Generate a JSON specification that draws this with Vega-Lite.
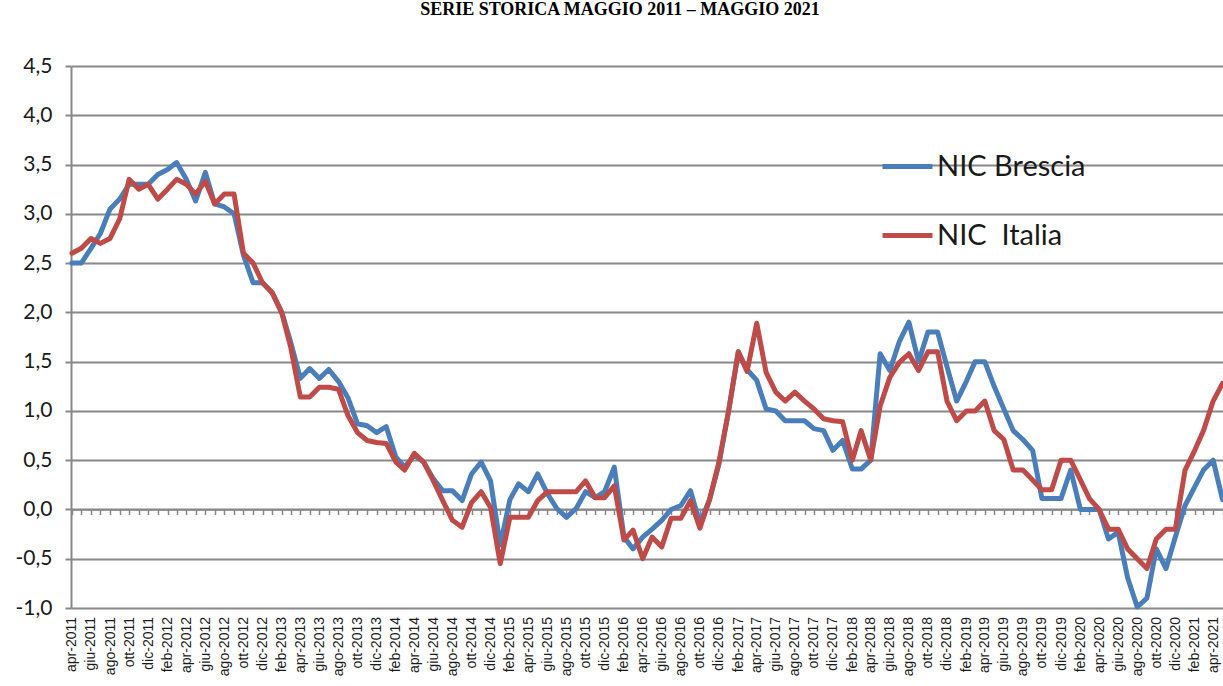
{
  "$schema": "https://vega.github.io/schema/vega-lite/v6.json",
  "autosize": {"type": "none"},
  "width": 1152,
  "height": 542,
  "padding": {"left": 71, "top": 66, "right": 0, "bottom": 78},
  "background": "white",
  "title": {
    "text": "SERIE STORICA MAGGIO 2011 – MAGGIO 2021",
    "font": "Liberation Serif",
    "fontWeight": "bold",
    "fontSize": 18,
    "color": "black",
    "anchor": "middle",
    "frame": "group",
    "baseline": "alphabetic",
    "offset": 22,
    "dx": -27
  },
  "config": {
    "view": {"stroke": null}
  },
  "data": {
    "values": [
      {"mese": "2011-04", "brescia": 2.5, "italia": 2.6},
      {"mese": "2011-05", "brescia": 2.5, "italia": 2.65},
      {"mese": "2011-06", "brescia": 2.65, "italia": 2.75},
      {"mese": "2011-07", "brescia": 2.8, "italia": 2.7},
      {"mese": "2011-08", "brescia": 3.05, "italia": 2.75},
      {"mese": "2011-09", "brescia": 3.15, "italia": 2.95},
      {"mese": "2011-10", "brescia": 3.3, "italia": 3.35},
      {"mese": "2011-11", "brescia": 3.3, "italia": 3.25},
      {"mese": "2011-12", "brescia": 3.3, "italia": 3.3},
      {"mese": "2012-01", "brescia": 3.4, "italia": 3.15},
      {"mese": "2012-02", "brescia": 3.45, "italia": 3.25},
      {"mese": "2012-03", "brescia": 3.52, "italia": 3.35},
      {"mese": "2012-04", "brescia": 3.35, "italia": 3.3},
      {"mese": "2012-05", "brescia": 3.13, "italia": 3.2},
      {"mese": "2012-06", "brescia": 3.42, "italia": 3.33},
      {"mese": "2012-07", "brescia": 3.1, "italia": 3.1},
      {"mese": "2012-08", "brescia": 3.07, "italia": 3.2},
      {"mese": "2012-09", "brescia": 3.0, "italia": 3.2},
      {"mese": "2012-10", "brescia": 2.58, "italia": 2.6},
      {"mese": "2012-11", "brescia": 2.3, "italia": 2.5},
      {"mese": "2012-12", "brescia": 2.3, "italia": 2.3},
      {"mese": "2013-01", "brescia": 2.2, "italia": 2.2},
      {"mese": "2013-02", "brescia": 2.0, "italia": 1.99},
      {"mese": "2013-03", "brescia": 1.7, "italia": 1.65},
      {"mese": "2013-04", "brescia": 1.33, "italia": 1.14},
      {"mese": "2013-05", "brescia": 1.43, "italia": 1.14},
      {"mese": "2013-06", "brescia": 1.33, "italia": 1.24},
      {"mese": "2013-07", "brescia": 1.42, "italia": 1.24},
      {"mese": "2013-08", "brescia": 1.3, "italia": 1.22},
      {"mese": "2013-09", "brescia": 1.13, "italia": 0.95},
      {"mese": "2013-10", "brescia": 0.87, "italia": 0.78},
      {"mese": "2013-11", "brescia": 0.85, "italia": 0.7},
      {"mese": "2013-12", "brescia": 0.78, "italia": 0.68},
      {"mese": "2014-01", "brescia": 0.84, "italia": 0.67},
      {"mese": "2014-02", "brescia": 0.53, "italia": 0.48},
      {"mese": "2014-03", "brescia": 0.43, "italia": 0.4},
      {"mese": "2014-04", "brescia": 0.55, "italia": 0.57},
      {"mese": "2014-05", "brescia": 0.48, "italia": 0.48},
      {"mese": "2014-06", "brescia": 0.31, "italia": 0.29},
      {"mese": "2014-07", "brescia": 0.19, "italia": 0.09},
      {"mese": "2014-08", "brescia": 0.19, "italia": -0.11},
      {"mese": "2014-09", "brescia": 0.09, "italia": -0.18},
      {"mese": "2014-10", "brescia": 0.36, "italia": 0.07},
      {"mese": "2014-11", "brescia": 0.48, "italia": 0.18},
      {"mese": "2014-12", "brescia": 0.29, "italia": 0.02},
      {"mese": "2015-01", "brescia": -0.36, "italia": -0.55},
      {"mese": "2015-02", "brescia": 0.1, "italia": -0.08},
      {"mese": "2015-03", "brescia": 0.26, "italia": -0.08},
      {"mese": "2015-04", "brescia": 0.18, "italia": -0.08},
      {"mese": "2015-05", "brescia": 0.36, "italia": 0.09},
      {"mese": "2015-06", "brescia": 0.16, "italia": 0.18},
      {"mese": "2015-07", "brescia": 0.01, "italia": 0.18},
      {"mese": "2015-08", "brescia": -0.08, "italia": 0.18},
      {"mese": "2015-09", "brescia": 0.01, "italia": 0.18},
      {"mese": "2015-10", "brescia": 0.18, "italia": 0.29},
      {"mese": "2015-11", "brescia": 0.12, "italia": 0.12},
      {"mese": "2015-12", "brescia": 0.18, "italia": 0.12},
      {"mese": "2016-01", "brescia": 0.43, "italia": 0.24},
      {"mese": "2016-02", "brescia": -0.28, "italia": -0.31},
      {"mese": "2016-03", "brescia": -0.4, "italia": -0.21},
      {"mese": "2016-04", "brescia": -0.28, "italia": -0.5},
      {"mese": "2016-05", "brescia": -0.2, "italia": -0.28},
      {"mese": "2016-06", "brescia": -0.11, "italia": -0.38},
      {"mese": "2016-07", "brescia": 0.0, "italia": -0.09},
      {"mese": "2016-08", "brescia": 0.04, "italia": -0.09},
      {"mese": "2016-09", "brescia": 0.19, "italia": 0.09},
      {"mese": "2016-10", "brescia": -0.14, "italia": -0.19},
      {"mese": "2016-11", "brescia": 0.1, "italia": 0.1},
      {"mese": "2016-12", "brescia": 0.46, "italia": 0.48},
      {"mese": "2017-01", "brescia": 1.0, "italia": 1.0},
      {"mese": "2017-02", "brescia": 1.6, "italia": 1.6},
      {"mese": "2017-03", "brescia": 1.42, "italia": 1.4},
      {"mese": "2017-04", "brescia": 1.31, "italia": 1.89},
      {"mese": "2017-05", "brescia": 1.02, "italia": 1.39},
      {"mese": "2017-06", "brescia": 1.0, "italia": 1.19},
      {"mese": "2017-07", "brescia": 0.9, "italia": 1.1},
      {"mese": "2017-08", "brescia": 0.9, "italia": 1.19},
      {"mese": "2017-09", "brescia": 0.9, "italia": 1.1},
      {"mese": "2017-10", "brescia": 0.82, "italia": 1.02},
      {"mese": "2017-11", "brescia": 0.8, "italia": 0.92},
      {"mese": "2017-12", "brescia": 0.6, "italia": 0.9},
      {"mese": "2018-01", "brescia": 0.7, "italia": 0.89},
      {"mese": "2018-02", "brescia": 0.41, "italia": 0.5},
      {"mese": "2018-03", "brescia": 0.41, "italia": 0.8},
      {"mese": "2018-04", "brescia": 0.5, "italia": 0.5},
      {"mese": "2018-05", "brescia": 1.58, "italia": 1.05},
      {"mese": "2018-06", "brescia": 1.41, "italia": 1.34},
      {"mese": "2018-07", "brescia": 1.7, "italia": 1.49},
      {"mese": "2018-08", "brescia": 1.9, "italia": 1.58},
      {"mese": "2018-09", "brescia": 1.5, "italia": 1.41},
      {"mese": "2018-10", "brescia": 1.8, "italia": 1.6},
      {"mese": "2018-11", "brescia": 1.8, "italia": 1.6},
      {"mese": "2018-12", "brescia": 1.45, "italia": 1.1},
      {"mese": "2019-01", "brescia": 1.1, "italia": 0.9},
      {"mese": "2019-02", "brescia": 1.3, "italia": 1.0},
      {"mese": "2019-03", "brescia": 1.5, "italia": 1.0},
      {"mese": "2019-04", "brescia": 1.5, "italia": 1.1},
      {"mese": "2019-05", "brescia": 1.25, "italia": 0.8},
      {"mese": "2019-06", "brescia": 1.02, "italia": 0.71},
      {"mese": "2019-07", "brescia": 0.8, "italia": 0.4},
      {"mese": "2019-08", "brescia": 0.71, "italia": 0.4},
      {"mese": "2019-09", "brescia": 0.6, "italia": 0.3},
      {"mese": "2019-10", "brescia": 0.11, "italia": 0.2},
      {"mese": "2019-11", "brescia": 0.11, "italia": 0.2},
      {"mese": "2019-12", "brescia": 0.11, "italia": 0.5},
      {"mese": "2020-01", "brescia": 0.4, "italia": 0.5},
      {"mese": "2020-02", "brescia": 0.0, "italia": 0.3},
      {"mese": "2020-03", "brescia": 0.0, "italia": 0.11},
      {"mese": "2020-04", "brescia": 0.0, "italia": 0.0},
      {"mese": "2020-05", "brescia": -0.3, "italia": -0.2},
      {"mese": "2020-06", "brescia": -0.23, "italia": -0.2},
      {"mese": "2020-07", "brescia": -0.69, "italia": -0.4},
      {"mese": "2020-08", "brescia": -0.99, "italia": -0.5},
      {"mese": "2020-09", "brescia": -0.9, "italia": -0.6},
      {"mese": "2020-10", "brescia": -0.4, "italia": -0.3},
      {"mese": "2020-11", "brescia": -0.6, "italia": -0.2},
      {"mese": "2020-12", "brescia": -0.28, "italia": -0.2},
      {"mese": "2021-01", "brescia": 0.04, "italia": 0.4},
      {"mese": "2021-02", "brescia": 0.23, "italia": 0.6},
      {"mese": "2021-03", "brescia": 0.4, "italia": 0.8},
      {"mese": "2021-04", "brescia": 0.5, "italia": 1.1},
      {"mese": "2021-05", "brescia": 0.1, "italia": 1.28}
    ],
    "format": {"parse": {"mese": "utc:'%Y-%m'"}}
  },
  "transform": [
    {"fold": ["brescia", "italia"], "as": ["serie", "valore"]}
  ],
  "mark": {"type": "line", "strokeWidth": 5, "strokeJoin": "round", "strokeCap": "round"},
  "encoding": {
    "x": {
      "field": "mese",
      "type": "temporal",
      "scale": {
        "type": "utc",
        "domain": [
          {"year": 2011, "month": 3, "date": 29, "utc": true},
          {"year": 2021, "month": 5, "date": 2, "hours": 12, "utc": true}
        ]
      },
      "axis": {
        "title": null,
        "orient": "bottom",
        "offset": -98.5,
        "grid": false,
        "domain": true,
        "domainColor": "#888888",
        "domainWidth": 1.5,
        "ticks": true,
        "tickSize": 5,
        "tickWidth": 1.5,
        "tickColor": "#888888",
        "tickCount": {"interval": "month", "step": 1},
        "labelExpr": "utcmonth(datum.value) % 2 == 1 ? ['gen','feb','mar','apr','mag','giu','lug','ago','set','ott','nov','dic'][utcmonth(datum.value)] + '-' + utcyear(datum.value) : ''",
        "labelAngle": -90,
        "labelPadding": 102,
        "labelFont": "Liberation Sans",
        "labelFontSize": 14,
        "labelColor": "#1a1a1a",
        "labelOverlap": false,
        "labelFlush": false,
        "labelBound": false
      }
    },
    "y": {
      "field": "valore",
      "type": "quantitative",
      "scale": {"domain": [-1, 4.5], "nice": false, "zero": false},
      "axis": {
        "title": null,
        "values": [-1, -0.5, 0, 0.5, 1, 1.5, 2, 2.5, 3, 3.5, 4, 4.5],
        "labelExpr": "replace(replace(format(datum.value, '.1f'), '.', ','), '−', '-')",
        "grid": true,
        "gridColor": "#888888",
        "gridWidth": 2,
        "domain": true,
        "domainColor": "#888888",
        "domainWidth": 2,
        "ticks": true,
        "tickSize": 6,
        "tickWidth": 2,
        "tickColor": "#888888",
        "labelPadding": 13,
        "labelFont": "Lato",
        "labelFontSize": 21,
        "labelColor": "#1a1a1a"
      }
    },
    "color": {
      "field": "serie",
      "type": "nominal",
      "scale": {"domain": ["brescia", "italia"], "range": ["#4A7EBB", "#BE4B48"]},
      "legend": {
        "title": null,
        "orient": "none",
        "legendX": 809,
        "legendY": 73,
        "direction": "vertical",
        "padding": 0,
        "symbolType": "stroke",
        "symbolSize": 2500,
        "symbolStrokeWidth": 5,
        "labelFont": "Lato",
        "labelFontSize": 29,
        "labelColor": "#1a1a1a",
        "labelOffset": 2,
        "rowPadding": 26,
        "labelExpr": "datum.value == 'brescia' ? 'NIC Brescia' : 'NIC\u00a0 Italia'"
      }
    }
  }
}
